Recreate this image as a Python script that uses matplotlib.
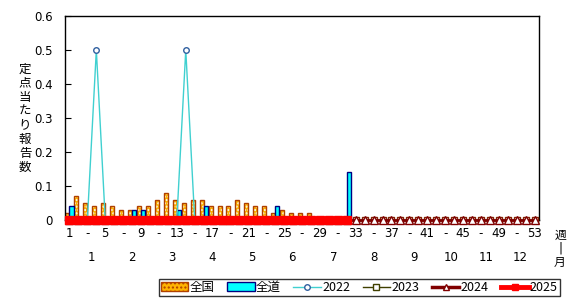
import matplotlib
matplotlib.use("Agg")
import matplotlib.pyplot as plt
import numpy as np
from matplotlib.patches import Patch
from matplotlib.lines import Line2D

plt.rcParams['font.family'] = ['Noto Sans CJK JP', 'DejaVu Sans']

weeks = np.arange(1, 54)

# 全国 (weeks 1-32)
zenkoku = [0.02, 0.07, 0.05, 0.04, 0.05, 0.04, 0.03, 0.03, 0.04, 0.04,
           0.06, 0.08, 0.06, 0.05, 0.06, 0.06, 0.04, 0.04, 0.04, 0.06,
           0.05, 0.04, 0.04, 0.02, 0.03, 0.02, 0.02, 0.02, 0.01, 0.01,
           0.01, 0.005]
# 全道 (weeks 1-32)
zendo = [0.04, 0, 0, 0, 0, 0, 0, 0.03, 0.03, 0,
         0, 0, 0.03, 0, 0, 0.04, 0, 0, 0, 0,
         0, 0, 0, 0.04, 0, 0, 0, 0, 0, 0,
         0, 0.14]

y2022 = [0] * 53
y2022[3] = 0.5
y2022[13] = 0.5
y2023 = [0] * 53
y2024 = [0] * 53
y2025 = [0] * 32

week_labels = []
for w in range(1, 54, 2):
    week_labels.append(str(w) if (w - 1) % 4 == 0 else '-')
month_pos = [3.5, 8.0, 12.5, 16.9, 21.4, 25.9, 30.5, 35.0, 39.5, 43.7, 47.6, 51.4]
month_labels = [str(m) for m in range(1, 13)]
ylabel = '定点当たり報告数'

fig = plt.figure(figsize=(5.79, 2.99), dpi=100)
ax = fig.add_axes([0.1123, 0.2642, 0.8187, 0.6823])

n = len(zenkoku)
wk = weeks[:n]
bw = 0.45
# 全国: orange with white dots, brown edge
ax.bar(wk - bw / 2, zenkoku, width=bw, color='#ffb400', edgecolor='white',
       hatch='.....', linewidth=0, zorder=2)
ax.bar(wk - bw / 2, zenkoku, width=bw, facecolor='none', edgecolor='#b04000',
       linewidth=1, zorder=2)
ax.bar(wk + bw / 2, zendo, width=bw, color='#00ffff', edgecolor='#000080',
       linewidth=1, zorder=2)

ax.plot(weeks, y2022, color='#40d0d0', lw=1, marker='o', ms=4,
        mfc='white', mec='#3060a0', mew=1, zorder=3, clip_on=False)
ax.plot(weeks, y2023, color='#404000', lw=1, marker='s', ms=5,
        mfc='white', mec='#802000', mew=1, zorder=4, clip_on=False)
ax.plot(weeks, y2024, color='#800000', lw=2, marker='^', ms=5.5,
        mfc='white', mec='#800000', mew=1, zorder=5, clip_on=False)
ax.plot(weeks[:len(y2025)], y2025, color='#ff0000', lw=3.5, marker='s', ms=5.5,
        mfc='#ff0000', mec='#ff0000', zorder=6, clip_on=False)

ax.set_xlim(0.5, 53.5)
ax.set_ylim(0, 0.6)
ax.set_yticks(np.arange(0, 0.61, 0.1))
ax.set_yticklabels(['0', '0.1', '0.2', '0.3', '0.4', '0.5', '0.6'],
                   family='DejaVu Sans')
ax.tick_params(axis='y', direction='in', length=4, pad=9, labelsize=8.5)
ax.set_xticks(np.arange(1, 54, 2))
ax.set_xticklabels(week_labels, family='DejaVu Sans')
ax.tick_params(axis='x', length=0, pad=5, labelsize=8.5)
for s in ax.spines.values():
    s.set_linewidth(1)

for p, lab in zip(month_pos, month_labels):
    ax.text(p, -0.11, lab, ha='center', va='center', fontsize=8.5,
            family='DejaVu Sans', clip_on=False)

fig.text(560 / 579, 1 - 235 / 299, '週', ha='center', va='center', fontsize=8.5)
fig.text(560 / 579, 1 - 248 / 299, '|', ha='center', va='center', fontsize=8.5,
         family='DejaVu Sans')
fig.text(560 / 579, 1 - 262 / 299, '月', ha='center', va='center', fontsize=8.5)
for i, ch in enumerate(ylabel):
    fig.text(25 / 579, 1 - (69 + i * 14) / 299, ch, ha='center', va='center',
             fontsize=9)

handles = [
    Patch(facecolor='#ffb400', edgecolor='#b04000', hatch='....'),
    Patch(facecolor='#00ffff', edgecolor='#000080'),
    Line2D([], [], color='#40d0d0', lw=1, marker='o', ms=4, mfc='white', mec='#3060a0'),
    Line2D([], [], color='#404000', lw=1, marker='s', ms=4, mfc='white', mec='#404000'),
    Line2D([], [], color='#800000', lw=2.5, marker='^', ms=5, mfc='white', mec='#800000'),
    Line2D([], [], color='#ff0000', lw=3.5, marker='s', ms=4, mfc='#ff0000', mec='#ff0000'),
]
labels = ['全国', '全道', '2022', '2023', '2024', '2025']
leg = fig.legend(handles, labels, ncol=6, loc='lower left',
                 bbox_to_anchor=(159 / 579, 1 - 296 / 299),
                 fontsize=9, frameon=True, fancybox=False, edgecolor='black',
                 handlelength=2.2, handletextpad=0.1, columnspacing=1.0,
                 borderpad=0.15, borderaxespad=0)
leg.get_frame().set_linewidth(1)

fig.savefig('out.png', dpi=100)
